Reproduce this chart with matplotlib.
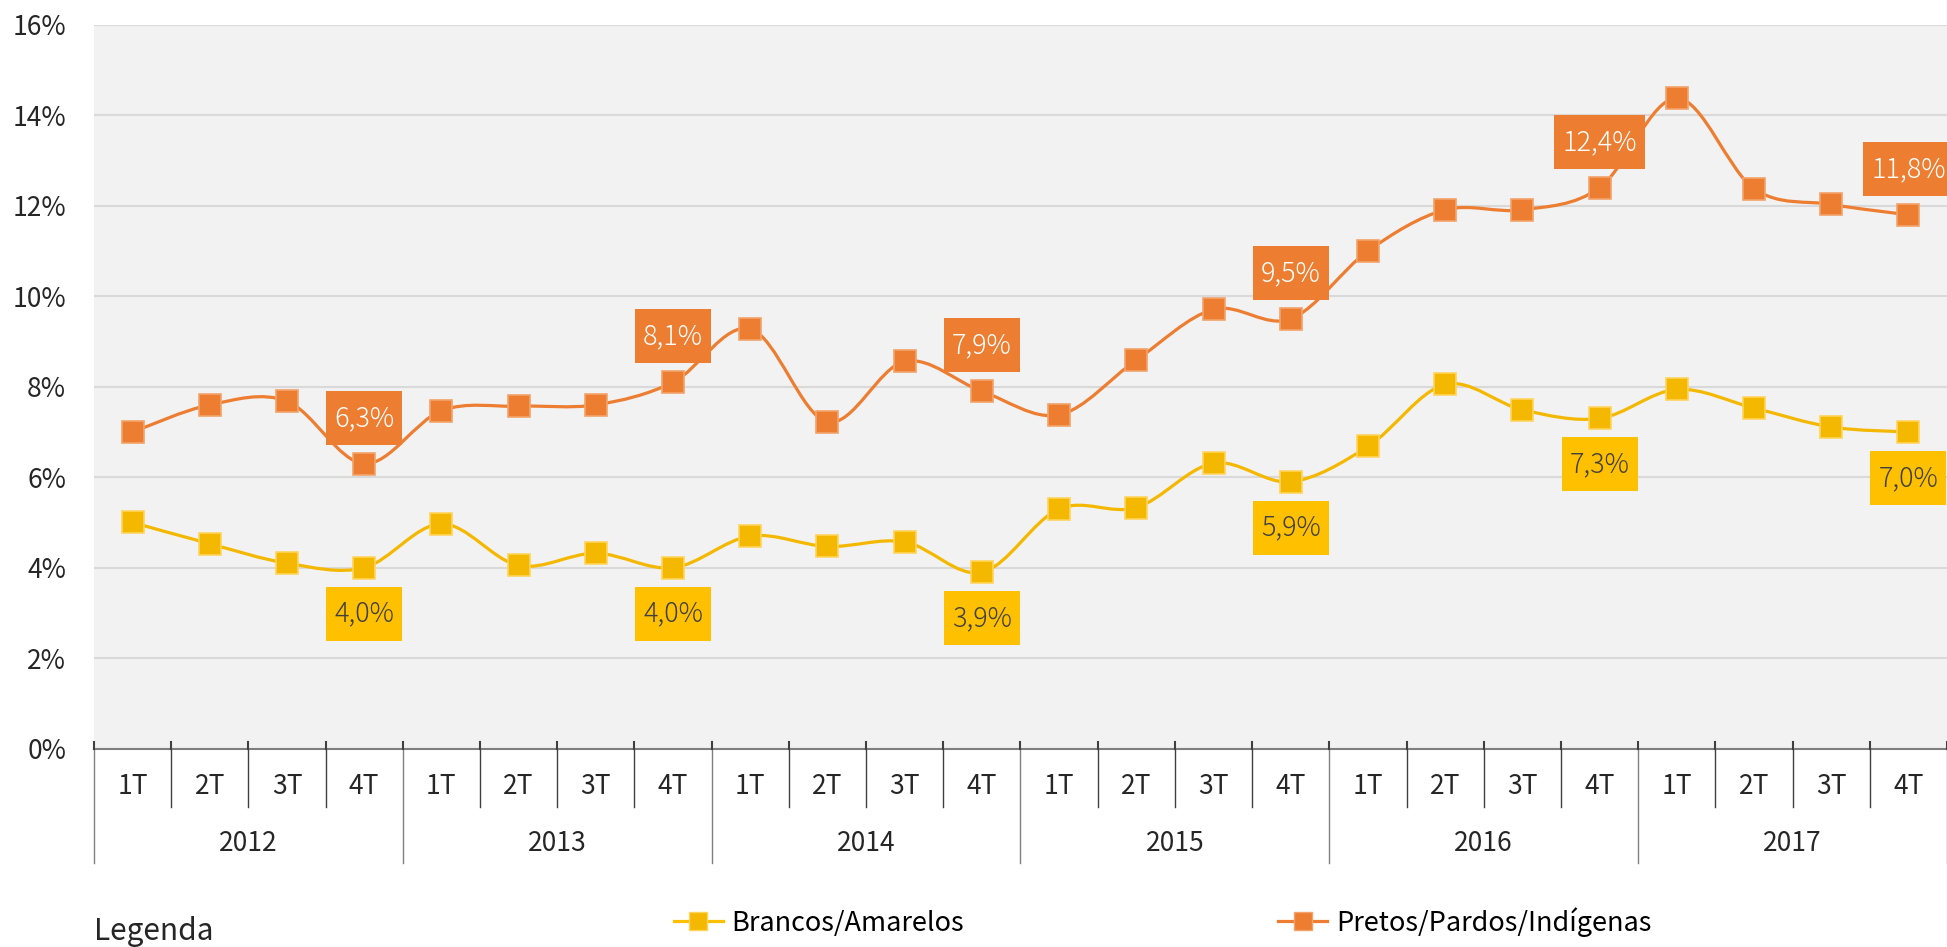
import matplotlib
matplotlib.use("Agg")
import matplotlib.pyplot as plt
from matplotlib.path import Path
from matplotlib.patches import PathPatch
from matplotlib.lines import Line2D
import numpy as np

years = ["2012", "2013", "2014", "2015", "2016", "2017"]
quarters = ["1T", "2T", "3T", "4T"]
brancos = [5.0, 4.53, 4.1, 4.0,
           4.97, 4.05, 4.32, 4.0,
           4.7, 4.47, 4.57, 3.9,
           5.3, 5.33, 6.31, 5.9,
           6.68, 8.05, 7.49, 7.3,
           7.94, 7.53, 7.11, 7.0]
pretos = [7.0, 7.6, 7.68, 6.3,
          7.47, 7.57, 7.6, 8.1,
          9.28, 7.22, 8.56, 7.9,
          7.38, 8.59, 9.71, 9.5,
          11.0, 11.91, 11.91, 12.4,
          14.38, 12.38, 12.03, 11.8]
label_idx = [3, 7, 11, 15, 19, 23]
series_names = ["Brancos/Amarelos", "Pretos/Pardos/Indígenas"]

ORANGE = "#ED7D31"
YELLOW = "#FFC000"
AXFONT = ["Noto Sans CJK JP", "DejaVu Sans"]
LBLFONT = ["Noto Sans CJK JP", "DejaVu Sans"]

W, H = 1947, 947
fig = plt.figure(figsize=(W / 100, H / 100), dpi=100)
left, right, top, bottom = 94, 1947, 24.8, 748.7
ax = fig.add_axes([left / W, 1 - bottom / H, (right - left) / W, (bottom - top) / H])
ax.set_facecolor("#F2F2F2")
for s in ax.spines.values():
    s.set_visible(False)

n = len(brancos)
x = np.arange(n)
ax.set_xlim(-0.5, n - 0.5)
ax.set_ylim(0, 16)
ax.set_yticks(range(0, 17, 2))
ax.set_yticklabels([f"{v}%" for v in range(0, 17, 2)], family=AXFONT, fontsize=19, color="#262626")
ax.tick_params(axis="y", length=0, pad=20)
ax.grid(axis="y", color="#D9D9D9", linewidth=1.5)
ax.set_axisbelow(True)
ax.set_xticks([])


def smooth_path(xs, ys):
    P = np.column_stack([xs, ys]).astype(float)
    m = len(P)
    verts = [P[0]]
    codes = [Path.MOVETO]
    for i in range(m - 1):
        p0 = P[i - 1] if i > 0 else P[i]
        p3 = P[i + 2] if i + 2 < m else P[i + 1]
        c1 = P[i] + (P[i + 1] - p0) / 6.0
        c2 = P[i + 1] - (p3 - P[i]) / 6.0
        verts += [c1, c2, P[i + 1]]
        codes += [Path.CURVE4] * 3
    return Path(verts, codes)


def label_box(x0, y0, width, height, mutation_size):
    px = 0.3 * mutation_size
    py = 0.48 * mutation_size
    xa, ya = x0 - px, y0 - py
    xb, yb = x0 + width + px, y0 + height + py
    return Path([(xa, ya), (xb, ya), (xb, yb), (xa, yb), (xa, ya)],
                [Path.MOVETO, Path.LINETO, Path.LINETO, Path.LINETO, Path.CLOSEPOLY])


def draw_series(vals, color, edge):
    patch = PathPatch(smooth_path(x, vals), facecolor="none", edgecolor=color, linewidth=2.3, zorder=3)
    ax.add_patch(patch)
    ax.plot(x, vals, linestyle="none", marker="s", markersize=16.5, markerfacecolor=color,
            markeredgecolor=edge, markeredgewidth=1.2, zorder=4)


draw_series(brancos, "#F5B800", "#FFD45C")
draw_series(pretos, ORANGE, "#F3A36B")

for i in label_idx:
    ax.annotate(f"{pretos[i]:.1f}%".replace(".", ","), (x[i], pretos[i]), xytext=(0, 33),
                textcoords="offset points", ha="center", va="center", fontsize=19.5,
                family=LBLFONT, weight="light", color="white", zorder=6, annotation_clip=False,
                bbox=dict(boxstyle=label_box, facecolor=ORANGE, edgecolor="none"))
    ax.annotate(f"{brancos[i]:.1f}%".replace(".", ","), (x[i], brancos[i]), xytext=(0, -33),
                textcoords="offset points", ha="center", va="center", fontsize=19.5,
                family=LBLFONT, weight="light", color="#404040", zorder=6, annotation_clip=False,
                bbox=dict(boxstyle=label_box, facecolor=YELLOW, edgecolor="none"))

# multi-level category axis
trans = ax.get_xaxis_transform()
axh = bottom - top
yq = -(787 - bottom) / axh
yy = -(843 - bottom) / axh
yq_sep = -(807 - bottom) / axh
yy_sep = -(863 - bottom) / axh
ytick_up = 7 / axh
ax.plot([-0.5, n - 0.5], [0, 0], transform=trans, color="#7F7F7F", linewidth=1.5, clip_on=False, zorder=5)
for k in range(n + 1):
    xb = k - 0.5
    is_year = (k % 4 == 0)
    ax.plot([xb, xb], [ytick_up, 0], transform=trans, color="#404040", linewidth=1.5, clip_on=False, zorder=5)
    ax.plot([xb, xb], [0, yy_sep if is_year else yq_sep], transform=trans,
            color="#808080" if is_year else "#404040", linewidth=1.0, clip_on=False)
for k in range(n):
    ax.text(k, yq, quarters[k % 4], transform=trans, ha="center", va="center",
            family=AXFONT, fontsize=19, color="#262626")
for j, yr in enumerate(years):
    ax.text(4 * j + 1.5, yy, yr, transform=trans, ha="center", va="center",
            family=AXFONT, fontsize=19, color="#262626")

# legend
handles = [Line2D([0], [0], color=YELLOW, linewidth=2.3, marker="s", markersize=13,
                  markerfacecolor="#F5B800", markeredgecolor="#FFD45C"),
           Line2D([0], [0], color=ORANGE, linewidth=2.3, marker="s", markersize=13,
                  markerfacecolor=ORANGE, markeredgecolor="#F3A36B")]
fig.legend(handles, series_names, loc="center left", bbox_to_anchor=(674 / W, 1 - 922 / H),
           ncol=2, frameon=False, borderpad=0, borderaxespad=0, handlelength=1.8,
           handletextpad=0.33, columnspacing=11.6, prop={"family": AXFONT, "size": 19.5})
fig.text(94 / W, 1 - 931 / H, "Legenda", ha="left", va="center", family=AXFONT, fontsize=21.5, color="#262626")

fig.savefig("out.png", dpi=100)
